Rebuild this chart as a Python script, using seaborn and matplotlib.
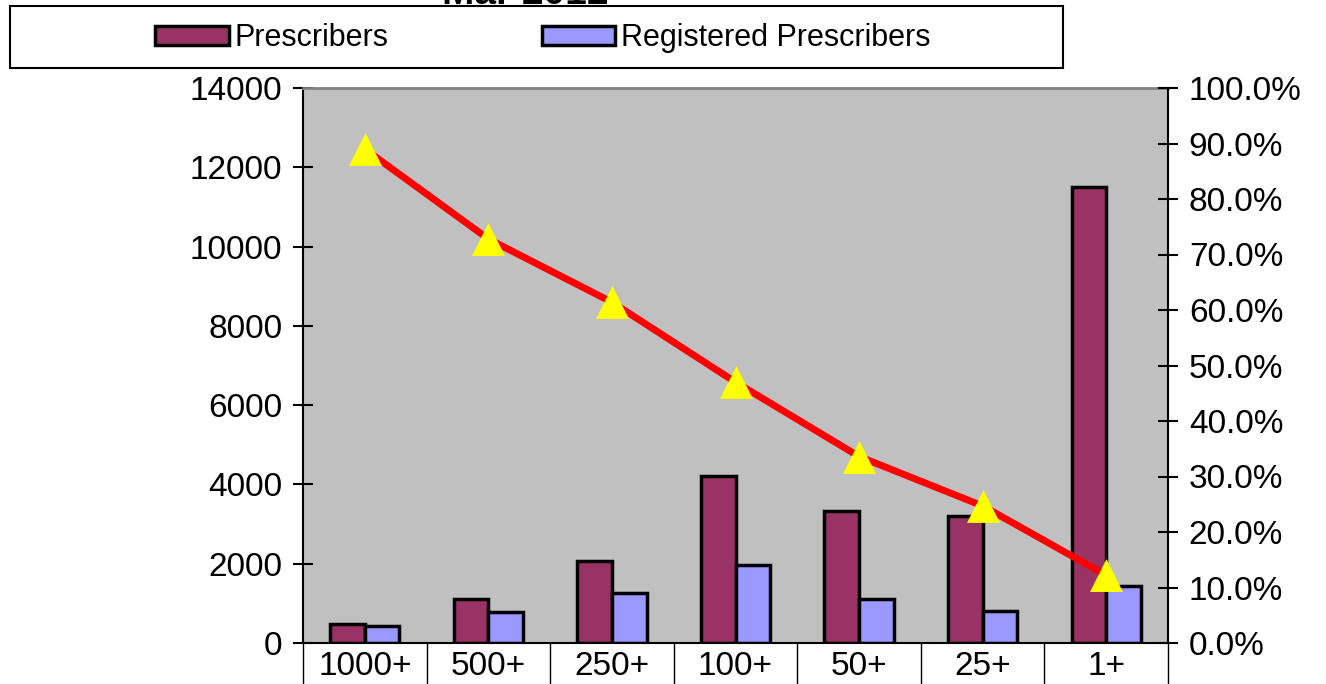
import numpy as np
import pandas as pd
import matplotlib
matplotlib.use("Agg")
import matplotlib.pyplot as plt
import seaborn as sns
from matplotlib.patches import Rectangle, Patch
from matplotlib.ticker import PercentFormatter

# values
categories = ["1000+", "500+", "250+", "100+", "50+", "25+", "1+"]
prescribers = [480, 1110, 2060, 4210, 3340, 3210, 11500]
registered = [430, 790, 1260, 1980, 1110, 800, 1440]
pct_registered = [89.0, 72.8, 61.4, 47.0, 33.6, 24.7, 12.2]
series_names = ["Prescribers", "Registered Prescribers"]
bar_colors = ["#993366", "#9999FF"]

df = pd.DataFrame({
    "band": categories * 2,
    "count": prescribers + registered,
    "series": [series_names[0]] * len(categories) + [series_names[1]] * len(categories),
})
line_df = pd.DataFrame({"pos": np.arange(len(categories)), "pct": pct_registered})

sns.set_style("white")
plt.rcParams["font.family"] = ["Liberation Sans", "DejaVu Sans"]
plt.rcParams["text.color"] = "black"
plt.rcParams["xtick.color"] = "black"
plt.rcParams["ytick.color"] = "black"

W, H = 1326, 684
fig = plt.figure(figsize=(W / 100, H / 100), dpi=100)
ax = fig.add_axes([303 / W, 1 - 643 / H, (1168 - 303) / W, (643 - 88) / H])
ax.set_facecolor("#C0C0C0")

sns.barplot(data=df, x="band", y="count", hue="series", order=categories,
            hue_order=series_names, palette=bar_colors, width=0.56,
            edgecolor="black", linewidth=2.5, saturation=1, ax=ax, legend=False)
ax.set_xlim(-0.5, len(categories) - 0.5)
ax.set_ylim(0, 14000)
ax.set_yticks(np.arange(0, 14001, 2000))
ax.set_xlabel("")
ax.set_ylabel("")
ax.tick_params(axis="y", direction="inout", length=14, width=1.5, labelsize=24,
               pad=8, labelcolor="black")
ax.tick_params(axis="x", length=0, labelsize=24, pad=6, labelcolor="black")

for side in ["left", "bottom"]:
    ax.spines[side].set_color("black")
    ax.spines[side].set_linewidth(1.5)
ax.spines["top"].set_color("#808080")
ax.spines["top"].set_linewidth(2)
ax.spines["right"].set_visible(False)

# table-like cell borders under the axis
for b in np.arange(-0.5, len(categories), 1.0):
    ax.plot([b, b], [0, -0.08], transform=ax.get_xaxis_transform(),
            color="black", lw=1, clip_on=False)

ax2 = ax.twinx()
sns.lineplot(data=line_df, x="pos", y="pct", color="red", linewidth=5, ax=ax2)
sns.scatterplot(data=line_df, x="pos", y="pct", marker="^", color="yellow",
                s=560, linewidth=0, ax=ax2, zorder=5)
ax2.set_ylim(0, 100)
ax2.set_yticks(np.arange(0, 101, 10))
ax2.yaxis.set_major_formatter(PercentFormatter(decimals=1))
ax2.set_xlabel("")
ax2.set_ylabel("")
ax2.tick_params(axis="y", direction="inout", length=14, width=1.5, labelsize=24,
                pad=8, labelcolor="black")
for side in ["left", "top", "bottom"]:
    ax2.spines[side].set_visible(False)
ax2.spines["right"].set_color("black")
ax2.spines["right"].set_linewidth(1.5)

# legend box
fig.patches.append(Rectangle((10 / W, 1 - 68 / H), 1053 / W, 62 / H,
                             transform=fig.transFigure, fill=False,
                             edgecolor="black", linewidth=1.5))
handles = [Patch(facecolor=c, edgecolor="black", linewidth=2.5) for c in bar_colors]
fig.legend(handles, series_names, loc="center", bbox_to_anchor=(543 / W, 1 - 38 / H),
           ncol=2, frameon=False, fontsize=22, handlelength=2.4, handleheight=0.6,
           handletextpad=0.2, columnspacing=5.0, labelcolor="black")

# title sits mostly above the top edge, as in the source image
fig.text(525 / W, 1 - 4 / H, "Mar 2012", ha="center", va="baseline",
         fontsize=28, fontweight="bold", color="black")

fig.savefig("out.png", dpi=100)
